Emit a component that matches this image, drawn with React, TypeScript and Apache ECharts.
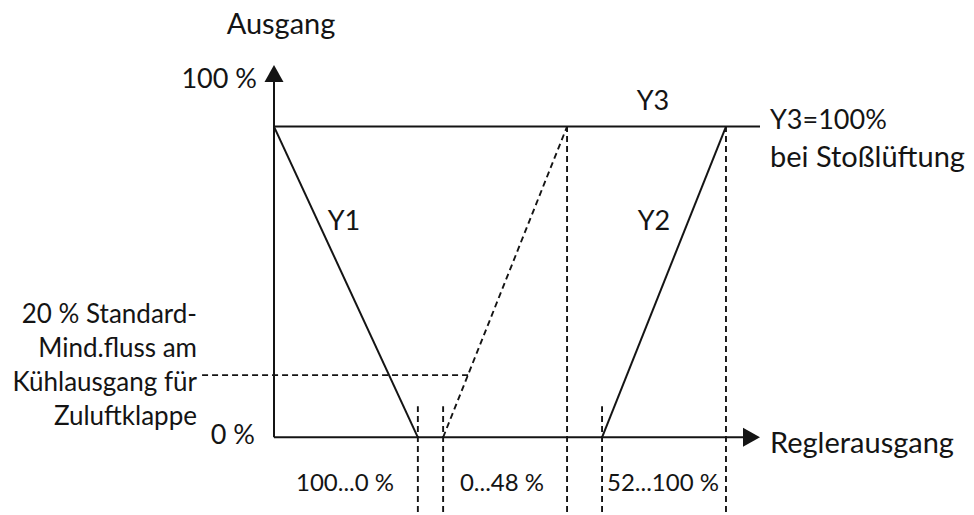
import React, { useEffect, useRef } from "react";
import * as echarts from "echarts";

// Schematic coordinates: x = position along the controller-output axis (0..100 of axis length),
// y = output in %
const axisXLine: number[][] = [[0, 0], [98.25, 0]];
const axisYLine: number[][] = [[0, 0], [0, 117.1]];
const y1Line: number[][] = [[0, 100], [29.6, 0]];
const y2Line: number[][] = [[67.5, 0], [93, 100]];
const y3Line: number[][] = [[0, 100], [100, 100]];
const coolingDashed: number[][] = [[34.8, 0], [60.3, 100]];
const minFlowDashed: number[][] = [[-14.8, 20], [40.3, 20]];
const guideX: number[] = [29.6, 34.8, 60.3, 67.5, 93];
const guideTop: number[] = [10, 10, 100, 10, 100];
const guideBottom = -24;

const rangeLabels: string[] = ["100...0 %", "0...48 %", "52...100 %"];
const minFlowText: string[] = ["20 % Standard-", "Mind.fluss am", "Kühlausgang für", "Zuluftklappe"];

const FONT = "Lato";
const INK = "#141414";

export default function App() {
  const ref = useRef<HTMLDivElement>(null);
  useEffect(() => {
    document.body.style.margin = "0";
    const chart = echarts.init(ref.current!, null, { renderer: "svg" });
    const solid = { color: INK, width: 2 };
    const dashed = { color: INK, width: 1.9, type: [6, 4] as number[] };
    const mk = (name: string, data: any[], lineStyle: any) => ({
      type: "line",
      name,
      data,
      symbol: "none",
      lineStyle,
      silent: true,
      clip: false,
    });
    const arrowEnd = (pts: number[][], rot: number) => [
      { value: pts[0], symbol: "none" },
      { value: pts[1], symbol: "triangle", symbolSize: [19, 17], symbolRotate: rot, itemStyle: { color: INK } },
    ];
    const series: any[] = [
      mk("axisX", arrowEnd(axisXLine, -90), solid),
      mk("axisY", arrowEnd(axisYLine, 0), solid),
      mk("Y3", y3Line, solid),
      mk("Y1", y1Line, solid),
      mk("Y2", y2Line, solid),
      mk("cooling", coolingDashed, dashed),
      mk("minflow", minFlowDashed, dashed),
    ];
    guideX.forEach((gx, i) => {
      series.push(mk("guide" + i, [[gx, guideBottom], [gx, guideTop[i]]], dashed));
    });
    const txt = (text: string, x: number, y: number, align: string = "center", size = 27) => ({
      type: "text",
      x,
      y,
      style: { text, fill: INK, font: `${size}px ${FONT}`, align, verticalAlign: "middle" },
    });
    const graphics: any[] = [
      txt("Ausgang", 281, 22, "center", 29),
      txt("100 %", 257, 77, "right"),
      txt("0 %", 255, 433, "right"),
      txt("Y1", 344, 219),
      txt("Y2", 654, 219),
      txt("Y3", 653, 99),
      txt("Y3=100%", 770, 118, "left"),
      txt("bei Stoßlüftung", 770, 155, "left", 29),
      txt("Reglerausgang", 770, 441, "left", 29),
      txt(rangeLabels[0], 345, 481, "center", 24),
      txt(rangeLabels[1], 502, 481, "center", 24),
      txt(rangeLabels[2], 663, 481, "center", 24),
    ];
    minFlowText.forEach((t, i) => graphics.push(txt(t, 197, 313 + i * 34, "right", 26)));
    chart.setOption({
      animation: false,
      backgroundColor: "#ffffff",
      grid: { left: 176.8, top: 64.4, width: 583.2, height: 453.85 },
      xAxis: { type: "value", min: -20, max: 100, show: false },
      yAxis: { type: "value", min: -25, max: 120, show: false },
      series,
      graphic: graphics,
    });
    return () => chart.dispose();
  }, []);
  return <div ref={ref} style={{ width: 974, height: 515, position: "fixed", left: 0, top: 0 }} />;
}
